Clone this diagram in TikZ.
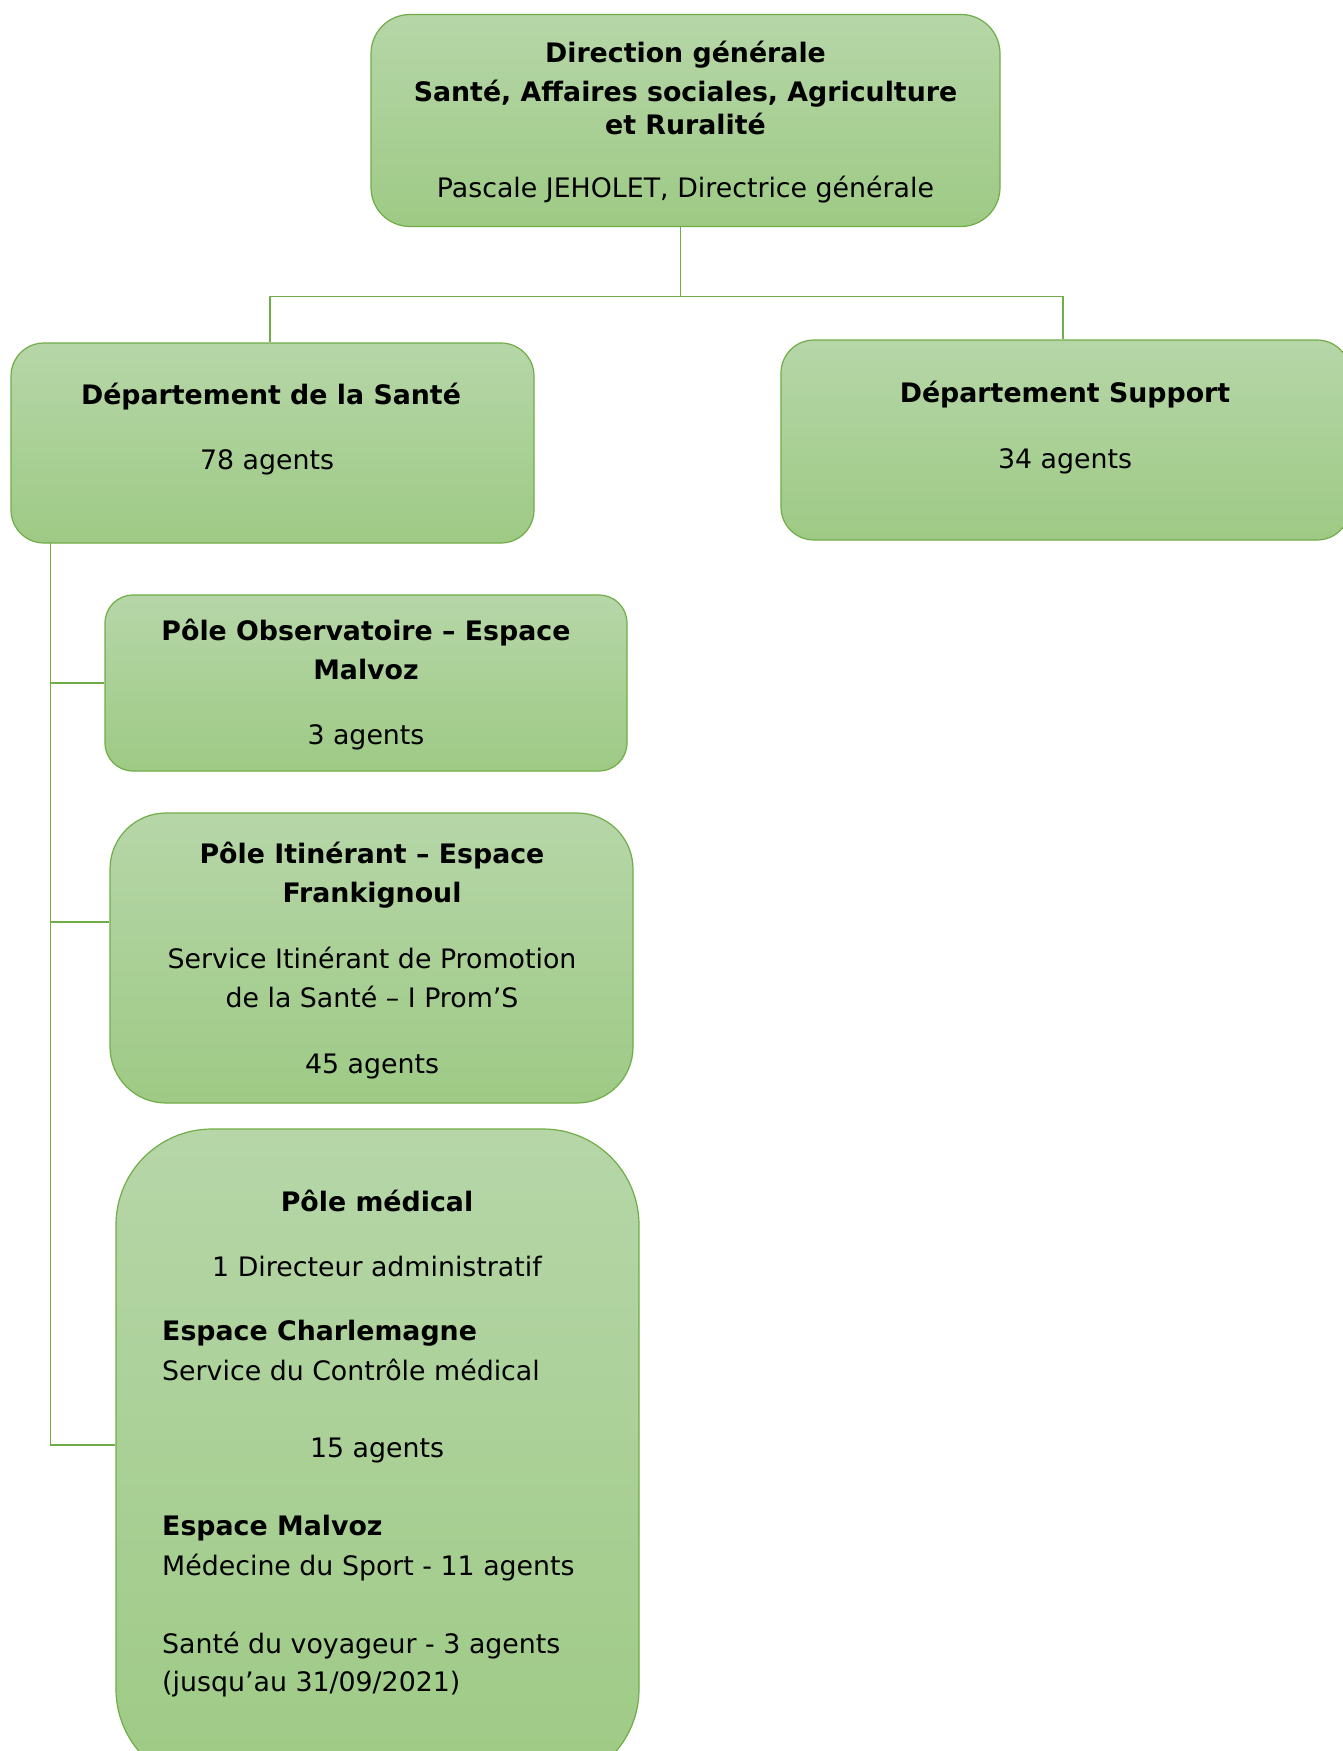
\documentclass[tikz,border=0pt]{standalone}
\usepackage{fontspec}
\setmainfont{DejaVu Sans}
\usetikzlibrary{backgrounds}
\definecolor{gtop}{HTML}{B6D6A8}
\definecolor{gbot}{HTML}{9ECA85}
\definecolor{edgec}{HTML}{70AD47}
\definecolor{connc}{HTML}{70AD47}
\tikzset{
  box/.style={rectangle, draw=edgec, line width=1.2pt, top color=gtop, bottom color=gbot, inner sep=0pt},
  conn/.style={draw=connc, line width=1.4pt},
  lbl/.style={anchor=base, inner sep=0pt, font=\fontsize{26.8}{32}\selectfont},
  blbl/.style={lbl, font=\fontsize{26.8}{32}\selectfont\bfseries},
  llbl/.style={anchor=base west, inner sep=0pt, font=\fontsize{26.8}{32}\selectfont},
  lblbl/.style={llbl, font=\fontsize{26.8}{32}\selectfont\bfseries}
}
\begin{document}
\begin{tikzpicture}[x=1pt,y=-1pt]
\useasboundingbox (0,0) rectangle (1343,1751);

% boxes
\node[box, minimum width=629pt, minimum height=212pt, rounded corners=39pt] (top) at (685.5,120.5) {};
\node[box, minimum width=523pt, minimum height=200pt, rounded corners=33pt] (sante) at (272.5,443) {};
\node[box, minimum width=569pt, minimum height=200pt, rounded corners=33pt] (supp) at (1065.5,440) {};
\node[box, minimum width=522pt, minimum height=176pt, rounded corners=28pt] (obs) at (366,683) {};
\node[box, minimum width=523pt, minimum height=290pt, rounded corners=56pt] (iti) at (371.5,958) {};
\node[box, minimum width=523pt, minimum height=656pt, rounded corners=96pt] (med) at (377.5,1457) {};

% background and connectors
\begin{scope}[on background layer]
\fill[white] (0,0) rectangle (1343,1751);
\draw[conn] ([xshift=-5pt]top.south) -- ++(0,69.5) coordinate (hub);
\draw[conn] (hub) -| ([xshift=-2.5pt]sante.north);
\draw[conn] (hub) -| ([xshift=-2.5pt]supp.north);
\coordinate (trunk) at ([xshift=40pt,yshift=4pt]sante.south west);
\coordinate (itiw) at ([yshift=36pt]iti.west);
\coordinate (medw) at ([yshift=12pt]med.west);
\draw[conn] (trunk) |- (medw);
\draw[conn] (trunk |- obs.west) -- (obs.west);
\draw[conn] (trunk |- itiw) -- (itiw);
\end{scope}

% top box text
\node[blbl] (t1) at (685.5,62) {Direction générale};
\node[blbl] (t2) at (685.5,101) {Santé, Affaires sociales, Agriculture};
\node[blbl] (t3) at (685.5,134) {et Ruralité};
\node[lbl] (t4) at (685.5,197.5) {Pascale JEHOLET, Directrice générale};

% Departement de la Sante
\node[blbl] (s1) at (271,404) {Département de la Santé};
\node[lbl] (s2) at (267,469) {78 agents};

% Departement Support
\node[blbl] (p1) at (1065,402) {Département Support};
\node[lbl] (p2) at (1065,468) {34 agents};

% Pole Observatoire
\node[blbl] (o1) at (366,640.5) {Pôle Observatoire – Espace};
\node[blbl] (o2) at (366,679.5) {Malvoz};
\node[lbl] (o3) at (366,744.5) {3 agents};

% Pole Itinerant
\node[blbl] (i1) at (372,863.5) {Pôle Itinérant – Espace};
\node[blbl] (i2) at (372,902.5) {Frankignoul};
\node[lbl] (i3) at (372,968.5) {Service Itinérant de Promotion};
\node[lbl] (i4) at (372,1007.5) {de la Santé – I Prom’S};
\node[lbl] (i5) at (372,1073.5) {45 agents};

% Pole medical
\node[blbl] (m1) at (377,1211) {Pôle médical};
\node[lbl] (m2) at (377,1276) {1 Directeur administratif};
\node[lblbl] (m3) at (162,1340) {Espace Charlemagne};
\node[llbl] (m4) at (162,1380) {Service du Contrôle médical};
\node[lbl] (m5) at (377,1457) {15 agents};
\node[lblbl] (m6) at (162,1535) {Espace Malvoz};
\node[llbl] (m7) at (162,1575) {Médecine du Sport - 11 agents};
\node[llbl] (m8) at (162,1653) {Santé du voyageur - 3 agents};
\node[llbl] (m9) at (162,1691) {(jusqu’au 31/09/2021)};
\end{tikzpicture}
\end{document}
